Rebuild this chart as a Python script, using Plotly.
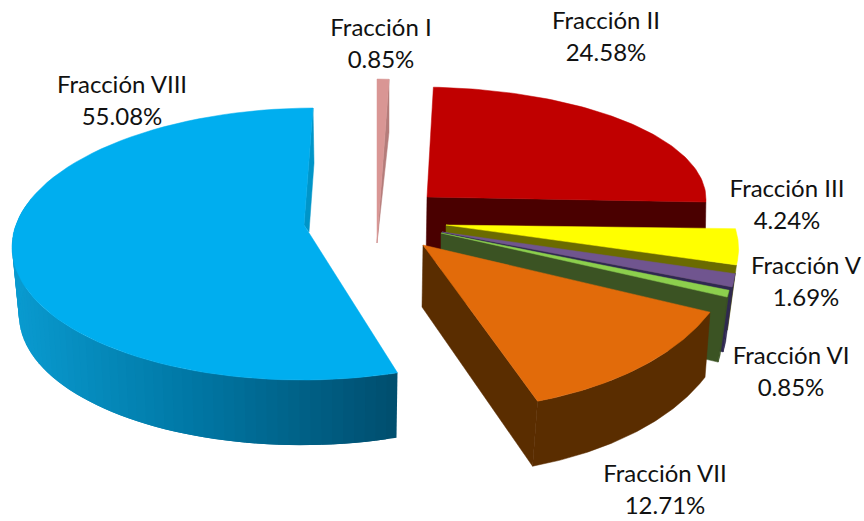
import numpy as np
import plotly.graph_objects as go

# ---- data ----
categories = ["Fracción I", "Fracción II", "Fracción III", "Fracción V",
              "Fracción VI", "Fracción VII", "Fracción VIII"]
percent_values = [0.85, 24.58, 4.24, 1.69, 0.85, 12.71, 55.08]

# ---- styles ----
top_colors = ["#d99694", "#c00000", "#ffff00", "#70558f", "#8ccf4d", "#e26b0a", "#00aeef"]
wall_colors = ["#b47c7a", "#4a0000", "#6b6b00", "#2f2850", "#3b5323", "#5a2d00", "#0095c8"]
has_outer_wall = [False, False, False, True, True, True, True]

# projected-pie geometry of each exploded slice (pixel space)
# apex, rim centre C, rim vectors U (sin) and V (cos), depth of rim, depth of apex
geometry = [
    dict(A=(377, 243), C=(377, 245), U=(225, 0), V=(0, -166), d=(0, 53), da=(0, 0)),
    dict(A=(427, 197), C=(418, 199), U=(288, 0), V=(0, -112), d=(-1, 65), da=(-1, 65)),
    dict(A=(446, 225), C=(434, 227.4), U=(300, -3), V=(-53, -140), d=(-9, 65), da=(0, 65)),
    dict(A=(442, 232), C=(425.4, 232.5), U=(300, 0), V=(-78, -140), d=(-9, 65), da=(0, 65)),
    dict(A=(441, 233), C=(415.4, 233.2), U=(300, 0), V=(-96, -146), d=(-9, 65), da=(0, 65)),
    dict(A=(423, 245), C=(423.6, 236), U=(310, 0), V=(-17.6, -174), d=(-5, 65), da=(-1, 62)),
    dict(A=(304, 225), C=(308.6, 244), U=(296.6, -1), V=(4.4, -136), d=(1, 55), da=(5, 7)),
]
label_pos = [(381, 46), (606, 39), (787, 207), (806, 284), (791, 374), (665, 492), (122, 103)]

fig = go.Figure()


def poly(pts, color, lw=0.5):
    pts = np.asarray(pts, float)
    fig.add_trace(go.Scatter(
        x=np.append(pts[:, 0], pts[0, 0]), y=np.append(pts[:, 1], pts[0, 1]),
        mode="lines", fill="toself", fillcolor=color,
        line=dict(color=color, width=lw), hoverinfo="skip", showlegend=False))


def rim(g, deg):
    t = np.radians(deg)
    return (np.array(g["C"]) + np.outer(np.sin(t), g["U"]) + np.outer(np.cos(t), g["V"]))


edges = np.concatenate([[0], np.cumsum(percent_values)]) * 3.6


def slice_parts(i):
    g = geometry[i]
    a0, a1 = edges[i], edges[i + 1]
    arc = rim(g, np.linspace(a0, a1, 80))
    return g, a0, a1, arc, np.array(g["A"], float)


# back-to-front: pink, red, yellow, purple, green, orange
for i in [0, 1, 2, 3, 4, 5]:
    g, a0, a1, arc, A = slice_parts(i)
    d, da = np.array(g["d"], float), np.array(g["da"], float)
    if has_outer_wall[i]:
        poly(np.vstack([arc, (arc + d)[::-1]]), wall_colors[i])
    poly([A, arc[-1], arc[-1] + d, A + da], wall_colors[i])
    poly(np.vstack([[A], arc]), top_colors[i])

# blue slice: shaded outer wall, then its small cut face and top
g, a0, a1, arc, A = slice_parts(6)
stops_x = [12, 200, 398]
stops_rgb = [(10, 155, 208), (0, 118, 163), (0, 78, 110)]
angles = np.linspace(a0, 290, 61)
pts = rim(g, angles)


def depth_at(angle):
    f = (angle - a0) / (270 - a0)
    return np.array([-1 + 8 * f, 65 + 1 * f])


for k in range(len(angles) - 2):
    xm = (pts[k, 0] + pts[k + 1, 0]) / 2
    rgb = [int(np.interp(xm, stops_x, [s[c] for s in stops_rgb])) for c in range(3)]
    # each strip overlaps the next one so no seams show
    band = [pts[k], pts[k + 1], pts[k + 2],
            pts[k + 2] + depth_at(angles[k + 2]), pts[k + 1] + depth_at(angles[k + 1]),
            pts[k] + depth_at(angles[k])]
    poly(band, f"rgb({rgb[0]},{rgb[1]},{rgb[2]})", lw=0)
d, da = np.array(g["d"], float), np.array(g["da"], float)
poly([A, arc[-1], arc[-1] + d, A + da], wall_colors[6])
poly(np.vstack([[A], arc]), top_colors[6])

fig.add_trace(go.Scatter(
    x=[p[0] for p in label_pos], y=[p[1] for p in label_pos],
    text=[f"{c}<br>{v:.2f}%" for c, v in zip(categories, percent_values)],
    mode="text", textposition="middle center",
    textfont=dict(family="Lato", size=24, color="#111111"),
    hoverinfo="skip", showlegend=False))

fig.update_layout(
    width=864, height=521, margin=dict(l=0, r=0, t=0, b=0),
    paper_bgcolor="white", plot_bgcolor="white",
    xaxis=dict(range=[0, 864], visible=False, fixedrange=True),
    yaxis=dict(range=[521, 0], visible=False, fixedrange=True),
)
fig.write_html("out.html", config=dict(displayModeBar=False),
               post_script="document.body.style.margin='0';document.documentElement.style.overflow='hidden';")
